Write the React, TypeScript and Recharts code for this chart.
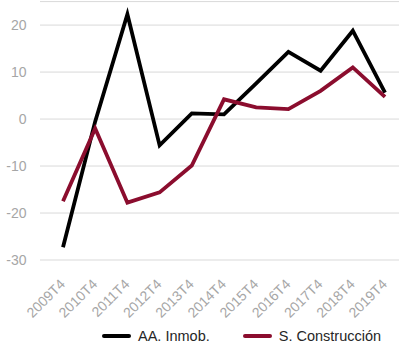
import { CartesianGrid, Legend, Line, LineChart, XAxis, YAxis } from "recharts";

const periods = [
  "2009T4", "2010T4", "2011T4", "2012T4", "2013T4", "2014T4",
  "2015T4", "2016T4", "2017T4", "2018T4", "2019T4",
];
const inmob = [-27.3, -0.5, 22.3, -5.6, 1.2, 1.0, 7.6, 14.3, 10.3, 18.8, 5.6];
const construccion = [-17.5, -2.0, -17.8, -15.6, -9.9, 4.2, 2.5, 2.1, 6.0, 11.0, 4.7];
const yTicks = [-30, -20, -10, 0, 10, 20];

const BLACK = "#000000";
const RED = "#8b0d2e";
const AXIS_GREY = "#a6a6a6";
const FONT = "'Liberation Sans', Arial, sans-serif";

const data = periods.map((p, i) => ({
  period: p,
  inmob: inmob[i],
  construccion: construccion[i],
}));

function PeriodTick({ x, y, payload }: any) {
  const tx = x + 3;
  const ty = y + 17;
  return (
    <text
      x={tx}
      y={ty}
      textAnchor="end"
      fill={AXIS_GREY}
      fontSize={14}
      fontFamily={FONT}
      transform={`rotate(-45, ${tx}, ${ty})`}
    >
      {payload.value}
    </text>
  );
}

function LegendRow({ payload }: any) {
  return (
    <div
      style={{
        height: 31,
        display: "flex",
        alignItems: "center",
        paddingLeft: 102,
        fontFamily: FONT,
        fontSize: 14.5,
        color: "#262626",
      }}
    >
      {(payload || []).map((item: any, i: number) => (
        <div
          key={item.value}
          style={{ display: "flex", alignItems: "center", marginLeft: i ? 33 : 0 }}
        >
          <span
            style={{
              display: "inline-block",
              width: 29,
              height: 4,
              borderRadius: 2,
              background: item.color,
              marginRight: 7,
            }}
          />
          <span>{item.value}</span>
        </div>
      ))}
    </div>
  );
}

export default function App() {
  return (
    <div style={{ position: "absolute", left: 0, top: 0, background: "#fff" }}>
      <LineChart
        width={405}
        height={351}
        data={data}
        margin={{ top: 1.6, right: 6, left: 0, bottom: 0 }}
      >
        <CartesianGrid vertical={false} stroke="#d9d9d9" strokeWidth={1} />
        <XAxis
          dataKey="period"
          axisLine={false}
          tickLine={false}
          interval={0}
          height={60}
          padding={{ left: 23, right: 14 }}
          tick={<PeriodTick />}
        />
        <YAxis
          domain={[-30, 25]}
          ticks={yTicks}
          width={40}
          axisLine={false}
          tickLine={false}
          tickSize={0}
          tickMargin={13.5}
          tick={{ fill: AXIS_GREY, fontSize: 14, fontFamily: FONT }}
        />
        <Legend verticalAlign="bottom" content={<LegendRow />} />
        <Line
          type="linear"
          dataKey="inmob"
          name="AA. Inmob."
          stroke={BLACK}
          strokeWidth={3.8}
          dot={false}
          isAnimationActive={false}
        />
        <Line
          type="linear"
          dataKey="construccion"
          name="S. Construcción"
          stroke={RED}
          strokeWidth={3.8}
          dot={false}
          isAnimationActive={false}
        />
      </LineChart>
    </div>
  );
}
